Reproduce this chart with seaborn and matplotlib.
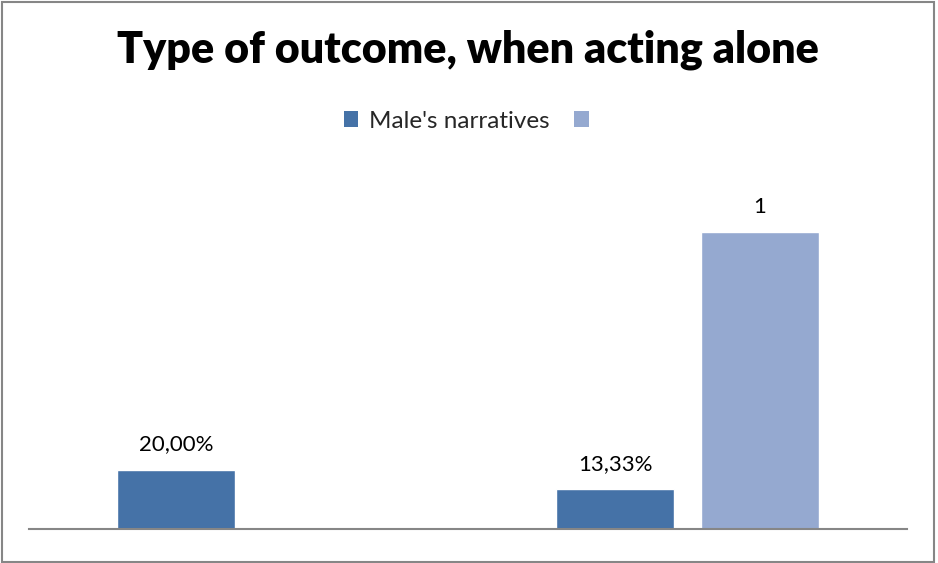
import numpy as np
import pandas as pd
import matplotlib
matplotlib.use("Agg")
import matplotlib.pyplot as plt
from matplotlib.patches import Patch, Rectangle
import seaborn as sns

# Chart data
categories = ["Outcome 1", "Outcome 2"]
series_names = ["Male's narratives", ""]
male_values = [0.20, 0.1333]
second_values = [np.nan, 1.0]
colors = ["#4572A7", "#95A9D0"]

rows = []
for cat, m, s in zip(categories, male_values, second_values):
    rows.append({"category": cat, "series": series_names[0], "value": m})
    rows.append({"category": cat, "series": series_names[1], "value": s})
df = pd.DataFrame(rows)

sns.set_theme(style="white")
plt.rcParams["font.family"] = ["Lato", "DejaVu Sans"]

fig = plt.figure(figsize=(9.38, 5.63), dpi=100)
ax = fig.add_axes([29 / 938, 34 / 563, 878 / 938, 350 / 563])

palette = dict(zip(series_names, colors))
sns.barplot(data=df, x="category", y="value", hue="series",
            hue_order=series_names, palette=palette, order=categories,
            width=0.66, gap=0.19, dodge=True, legend=False,
            saturation=1, ax=ax, errorbar=None)

ax.set_ylim(0, 1.18)
ax.set_xlim(-0.5, 1.5)
ax.set_xlabel("")
ax.set_ylabel("")
ax.set_xticks([])
ax.set_yticks([])
for side in ["top", "left", "right"]:
    ax.spines[side].set_visible(False)
ax.spines["bottom"].set_color("#868686")
ax.spines["bottom"].set_linewidth(1.5)

# Value labels above bars
def fmt_pct(v):
    return f"{v * 100:.2f}%".replace(".", ",")

def fmt_raw(v):
    return f"{v:g}"

for container, fmt in zip(ax.containers, [fmt_pct, fmt_raw]):
    labels = ["" if np.isnan(b.get_height()) else fmt(b.get_height())
              for b in container]
    ax.bar_label(container, labels=labels, padding=11, fontsize=16,
                 color="black")

# Title and legend
fig.text(0.499, 1 - 50 / 563, "Type of outcome, when acting alone",
         ha="center", va="center", fontsize=31, fontweight="heavy",
         color="black")

handles = [Patch(facecolor=c, edgecolor="none") for c in colors]
fig.legend(handles, series_names, loc="center", ncol=2,
           bbox_to_anchor=(0.503, 1 - 121 / 563), frameon=False,
           fontsize=17.5, handlelength=0.6, handleheight=0.6,
           handletextpad=0.45, columnspacing=1.0)

# Outer chart frame
fig.patches.append(Rectangle((1.5 / 938, 1.5 / 563), 932 / 938, 560 / 563,
                             transform=fig.transFigure, fill=False,
                             edgecolor="#868686", linewidth=1.5))

fig.savefig("out.png", dpi=100)
